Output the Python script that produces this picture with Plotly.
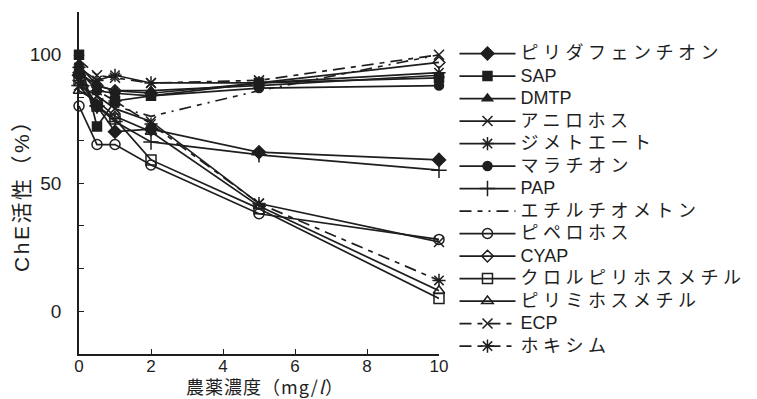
import plotly.graph_objects as go

# Pesticide concentration (mg/l)
conc = [0, 0.5, 1, 2, 5, 10]

# ChE activity (%) per pesticide
pyridaphenthion = [92, 80, 70, 71, 62, 59]
sap = [100, 72, 82, 84, 89, 91]
dmtp = [96, 88, 86, 86, 88, 92]
anilofos = [88, 84, 79, 74, 42, 27]
dimethoate = [95, 90, 92, 89, 89, 93]
malathion = [94, 86, 85, 84, 87, 88]
pap = [88, 80, 74, 66, 61, 55]
ethylthiometon = [90, 84, 80, 76, 86, 100]
piperophos = [80, 65, 65, 57, 38, 28]
cyap = [93, 88, 86, 85, 89, 97]
chlorpyrifos_methyl = [90, 80, 75, 59, 40, 5]
pirimiphos_methyl = [86, 82, 76, 70, 41, 8]
ecp = [98, 92, 91, 89, 90, 100]
phoxim = [90, 86, 82, 73, 42, 12]

series_names = ["ピリダフェンチオン", "SAP", "DMTP", "アニロホス", "ジメトエート",
                "マラチオン", "PAP", "エチルチオメトン", "ピペロホス", "CYAP",
                "クロルピリホスメチル", "ピリミホスメチル", "ECP", "ホキシム"]
series_values = [pyridaphenthion, sap, dmtp, anilofos, dimethoate, malathion, pap,
                 ethylthiometon, piperophos, cyap, chlorpyrifos_methyl,
                 pirimiphos_methyl, ecp, phoxim]

x_ticks = [0, 2, 4, 6, 8, 10]
y_step = 50 / 3
y_ticks = [round(-y_step + i * y_step, 4) for i in range(9)]
y_labels = ["" if abs(v - round(v)) > 1e-3 or int(round(v)) % 50 else str(int(round(v)))
            for v in y_ticks]

x_title = "農薬濃度（mg/<i>l</i>）"
y_title = "ChE活性（%）"

INK = "#1e1e1e"
LATIN = "Liberation Sans, Arial, Noto Sans CJK JP, sans-serif"

# marker symbol, size, dash style per series
styles = [
    ("diamond", 10, "solid"),
    ("square", 9, "solid"),
    ("triangle-up", 9, "solid"),
    ("x-thin-open", 10, "solid"),
    ("asterisk-open", 11, "solid"),
    ("circle", 9, "solid"),
    ("cross-thin-open", 11, "solid"),
    (None, 0, "12px,6px,5px,6px,2px,6px"),
    ("circle-open", 10, "solid"),
    ("diamond-open", 9, "solid"),
    ("square-open", 10, "solid"),
    ("triangle-up-open", 10, "solid"),
    ("x-thin-open", 10, "12px,6px,5px,6px"),
    ("asterisk-open", 11, "12px,6px,5px,6px"),
]


def legend_label(name):
    spacing = "0px" if name.isascii() else "4.5px"
    return f'<span style="font-size:18px;letter-spacing:{spacing}">{name}</span>'


fig = go.Figure()
for name, vals, (sym, size, dash) in zip(series_names, series_values, styles):
    fig.add_trace(go.Scatter(
        x=conc, y=vals, name=legend_label(name),
        mode="lines+markers" if sym else "lines",
        line=dict(color=INK, width=1.7, dash=dash),
        marker=dict(symbol=sym or "circle", size=size, color=INK,
                    line=dict(color=INK, width=1.5)),
        cliponaxis=False,
    ))

fig.update_layout(
    width=757, height=399,
    margin=dict(l=79, r=318, t=12, b=45, autoexpand=False),
    paper_bgcolor="white", plot_bgcolor="white",
    font=dict(family=LATIN, color=INK, size=19),
    showlegend=True,
    legend=dict(
        x=1.043, xanchor="left", y=0.926, yanchor="top",
        font=dict(size=15, family=LATIN, color=INK),
        itemwidth=56, bgcolor="rgba(0,0,0,0)", borderwidth=0,
        tracegroupgap=0,
    ),
    xaxis=dict(
        range=[0, 10], tickvals=x_ticks, ticktext=[str(v) for v in x_ticks],
        ticks="inside", ticklen=5, tickwidth=1.2, tickcolor=INK,
        showline=True, linecolor=INK, linewidth=1.5, showgrid=False,
        zeroline=False, automargin=False, ticklabelstandoff=-4,
        tickfont=dict(size=17, color=INK),
    ),
    yaxis=dict(
        range=[y_ticks[0], y_ticks[-1]], tickvals=y_ticks, ticktext=y_labels,
        ticks="inside", ticklen=5, tickwidth=1.2, tickcolor=INK,
        showline=True, linecolor=INK, linewidth=1.5, showgrid=False,
        zeroline=False, automargin=False, ticklabelstandoff=12,
        tickfont=dict(size=19, color=INK),
    ),
    annotations=[
        dict(text=f'<span style="letter-spacing:1px">{x_title}</span>',
             xref="paper", yref="paper", x=0.517, y=-0.095,
             xanchor="center", yanchor="middle", showarrow=False, borderpad=0,
             font=dict(size=18, color=INK, family="Noto Sans CJK JP, sans-serif")),
        dict(text=f'<span style="letter-spacing:2.5px">{y_title}</span>',
             xref="paper", yref="paper", x=-0.158, y=0.48, textangle=-90,
             xanchor="center", yanchor="middle", showarrow=False, borderpad=0,
             font=dict(size=21, color=INK, family=LATIN)),
    ],
)

fig.write_html("out.html")
